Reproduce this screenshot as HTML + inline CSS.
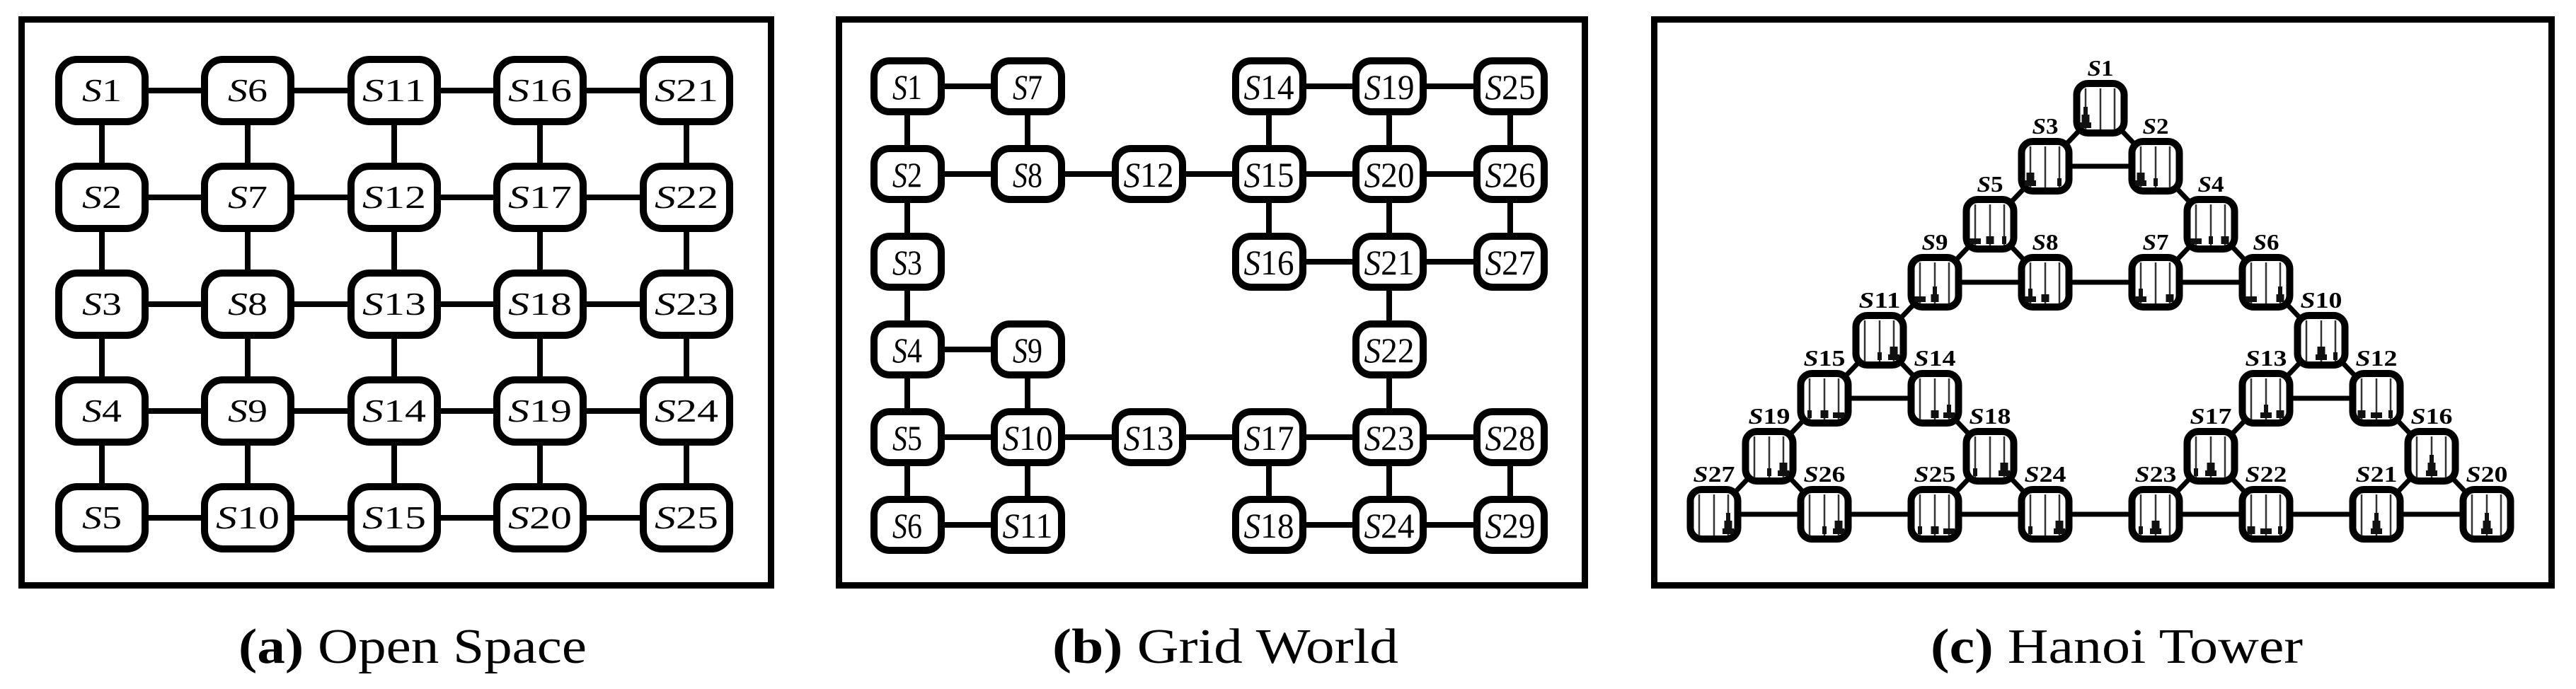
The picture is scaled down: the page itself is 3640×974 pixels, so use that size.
<!DOCTYPE html>
<html><head><meta charset="utf-8"><style>
html,body{margin:0;padding:0;background:#fff;}
svg{display:block;}
</style></head><body>
<svg xmlns="http://www.w3.org/2000/svg" xmlns:xlink="http://www.w3.org/1999/xlink" width="3640" height="974" viewBox="0 0 3640 974">
<defs>
<g id="hn">
<rect x="-33.5" y="-35" width="67" height="70" rx="16" fill="#fff" stroke="#000" stroke-width="10"/>
<line x1="-21" y1="-28" x2="-21" y2="30" stroke="#333" stroke-width="2.5"/>
<line x1="0" y1="-28" x2="0" y2="30" stroke="#333" stroke-width="2.5"/>
<line x1="20" y1="-28" x2="20" y2="30" stroke="#333" stroke-width="2.5"/>
</g>
<rect id="dL" x="-8" y="-8" width="16" height="8" fill="#111"/>
<rect id="dM" x="-5.5" y="-11" width="11" height="11" fill="#111"/>
<rect id="dS" x="-3" y="-11" width="6" height="11" fill="#111"/>
</defs>

<g fill="none" stroke="#000" stroke-width="9">
<rect x="30.5" y="27.5" width="1059" height="800"/>
<rect x="1185.5" y="27.5" width="1054" height="800"/>
<rect x="2337.5" y="27.5" width="1268" height="800"/>
</g>

<!-- Panel A -->
<g stroke="#000" stroke-width="8">
<line x1="144" y1="128" x2="970" y2="128"/><line x1="144" y1="279" x2="970" y2="279"/><line x1="144" y1="430" x2="970" y2="430"/><line x1="144" y1="581" x2="970" y2="581"/><line x1="144" y1="732" x2="970" y2="732"/>
<line x1="144" y1="128" x2="144" y2="732"/><line x1="350" y1="128" x2="350" y2="732"/><line x1="557" y1="128" x2="557" y2="732"/><line x1="763" y1="128" x2="763" y2="732"/><line x1="970" y1="128" x2="970" y2="732"/>
</g>
<g fill="#fff" stroke="#000" stroke-width="10">
<rect x="83" y="84" width="122" height="88" rx="26"/><rect x="83" y="235" width="122" height="88" rx="26"/><rect x="83" y="386" width="122" height="88" rx="26"/><rect x="83" y="537" width="122" height="88" rx="26"/><rect x="83" y="688" width="122" height="88" rx="26"/>
<rect x="289" y="84" width="122" height="88" rx="26"/><rect x="289" y="235" width="122" height="88" rx="26"/><rect x="289" y="386" width="122" height="88" rx="26"/><rect x="289" y="537" width="122" height="88" rx="26"/><rect x="289" y="688" width="122" height="88" rx="26"/>
<rect x="496" y="84" width="122" height="88" rx="26"/><rect x="496" y="235" width="122" height="88" rx="26"/><rect x="496" y="386" width="122" height="88" rx="26"/><rect x="496" y="537" width="122" height="88" rx="26"/><rect x="496" y="688" width="122" height="88" rx="26"/>
<rect x="702" y="84" width="122" height="88" rx="26"/><rect x="702" y="235" width="122" height="88" rx="26"/><rect x="702" y="386" width="122" height="88" rx="26"/><rect x="702" y="537" width="122" height="88" rx="26"/><rect x="702" y="688" width="122" height="88" rx="26"/>
<rect x="909" y="84" width="122" height="88" rx="26"/><rect x="909" y="235" width="122" height="88" rx="26"/><rect x="909" y="386" width="122" height="88" rx="26"/><rect x="909" y="537" width="122" height="88" rx="26"/><rect x="909" y="688" width="122" height="88" rx="26"/>
</g>
<g font-family="Liberation Serif, serif" font-size="46" text-anchor="middle" fill="#000">
<text x="144" y="143" textLength="56" lengthAdjust="spacingAndGlyphs"><tspan font-style="italic">S</tspan>1</text>
<text x="144" y="294" textLength="56" lengthAdjust="spacingAndGlyphs"><tspan font-style="italic">S</tspan>2</text>
<text x="144" y="445" textLength="56" lengthAdjust="spacingAndGlyphs"><tspan font-style="italic">S</tspan>3</text>
<text x="144" y="596" textLength="56" lengthAdjust="spacingAndGlyphs"><tspan font-style="italic">S</tspan>4</text>
<text x="144" y="747" textLength="56" lengthAdjust="spacingAndGlyphs"><tspan font-style="italic">S</tspan>5</text>
<text x="350" y="143" textLength="56" lengthAdjust="spacingAndGlyphs"><tspan font-style="italic">S</tspan>6</text>
<text x="350" y="294" textLength="56" lengthAdjust="spacingAndGlyphs"><tspan font-style="italic">S</tspan>7</text>
<text x="350" y="445" textLength="56" lengthAdjust="spacingAndGlyphs"><tspan font-style="italic">S</tspan>8</text>
<text x="350" y="596" textLength="56" lengthAdjust="spacingAndGlyphs"><tspan font-style="italic">S</tspan>9</text>
<text x="350" y="747" textLength="90" lengthAdjust="spacingAndGlyphs"><tspan font-style="italic">S</tspan>10</text>
<text x="557" y="143" textLength="90" lengthAdjust="spacingAndGlyphs"><tspan font-style="italic">S</tspan>11</text>
<text x="557" y="294" textLength="90" lengthAdjust="spacingAndGlyphs"><tspan font-style="italic">S</tspan>12</text>
<text x="557" y="445" textLength="90" lengthAdjust="spacingAndGlyphs"><tspan font-style="italic">S</tspan>13</text>
<text x="557" y="596" textLength="90" lengthAdjust="spacingAndGlyphs"><tspan font-style="italic">S</tspan>14</text>
<text x="557" y="747" textLength="90" lengthAdjust="spacingAndGlyphs"><tspan font-style="italic">S</tspan>15</text>
<text x="763" y="143" textLength="90" lengthAdjust="spacingAndGlyphs"><tspan font-style="italic">S</tspan>16</text>
<text x="763" y="294" textLength="90" lengthAdjust="spacingAndGlyphs"><tspan font-style="italic">S</tspan>17</text>
<text x="763" y="445" textLength="90" lengthAdjust="spacingAndGlyphs"><tspan font-style="italic">S</tspan>18</text>
<text x="763" y="596" textLength="90" lengthAdjust="spacingAndGlyphs"><tspan font-style="italic">S</tspan>19</text>
<text x="763" y="747" textLength="90" lengthAdjust="spacingAndGlyphs"><tspan font-style="italic">S</tspan>20</text>
<text x="970" y="143" textLength="90" lengthAdjust="spacingAndGlyphs"><tspan font-style="italic">S</tspan>21</text>
<text x="970" y="294" textLength="90" lengthAdjust="spacingAndGlyphs"><tspan font-style="italic">S</tspan>22</text>
<text x="970" y="445" textLength="90" lengthAdjust="spacingAndGlyphs"><tspan font-style="italic">S</tspan>23</text>
<text x="970" y="596" textLength="90" lengthAdjust="spacingAndGlyphs"><tspan font-style="italic">S</tspan>24</text>
<text x="970" y="747" textLength="90" lengthAdjust="spacingAndGlyphs"><tspan font-style="italic">S</tspan>25</text>
</g>

<!-- Panel B -->
<g stroke="#000" stroke-width="8">
<line x1="1282" y1="122" x2="1452" y2="122"/>
<line x1="1282" y1="246" x2="2134" y2="246"/>
<line x1="1793" y1="122" x2="2134" y2="122"/>
<line x1="1793" y1="370" x2="2134" y2="370"/>
<line x1="1282" y1="494" x2="1452" y2="494"/>
<line x1="1282" y1="618" x2="2134" y2="618"/>
<line x1="1282" y1="742" x2="1452" y2="742"/>
<line x1="1793" y1="742" x2="2134" y2="742"/>
<line x1="1282" y1="122" x2="1282" y2="742"/>
<line x1="1452" y1="122" x2="1452" y2="246"/><line x1="1452" y1="494" x2="1452" y2="742"/>
<line x1="1793" y1="122" x2="1793" y2="370"/><line x1="1793" y1="618" x2="1793" y2="742"/>
<line x1="1963" y1="122" x2="1963" y2="742"/>
<line x1="2134" y1="122" x2="2134" y2="370"/><line x1="2134" y1="618" x2="2134" y2="742"/>
</g>
<g fill="#fff" stroke="#000" stroke-width="10">
<rect x="1235" y="86" width="95" height="72" rx="22"/><rect x="1235" y="210" width="95" height="72" rx="22"/><rect x="1235" y="334" width="95" height="72" rx="22"/><rect x="1235" y="458" width="95" height="72" rx="22"/><rect x="1235" y="582" width="95" height="72" rx="22"/><rect x="1235" y="706" width="95" height="72" rx="22"/>
<rect x="1405" y="86" width="95" height="72" rx="22"/><rect x="1405" y="210" width="95" height="72" rx="22"/><rect x="1405" y="458" width="95" height="72" rx="22"/><rect x="1405" y="582" width="95" height="72" rx="22"/><rect x="1405" y="706" width="95" height="72" rx="22"/>
<rect x="1576" y="210" width="95" height="72" rx="22"/><rect x="1576" y="582" width="95" height="72" rx="22"/>
<rect x="1746" y="86" width="95" height="72" rx="22"/><rect x="1746" y="210" width="95" height="72" rx="22"/><rect x="1746" y="334" width="95" height="72" rx="22"/><rect x="1746" y="582" width="95" height="72" rx="22"/><rect x="1746" y="706" width="95" height="72" rx="22"/>
<rect x="1916" y="86" width="95" height="72" rx="22"/><rect x="1916" y="210" width="95" height="72" rx="22"/><rect x="1916" y="334" width="95" height="72" rx="22"/><rect x="1916" y="458" width="95" height="72" rx="22"/><rect x="1916" y="582" width="95" height="72" rx="22"/><rect x="1916" y="706" width="95" height="72" rx="22"/>
<rect x="2087" y="86" width="95" height="72" rx="22"/><rect x="2087" y="210" width="95" height="72" rx="22"/><rect x="2087" y="334" width="95" height="72" rx="22"/><rect x="2087" y="582" width="95" height="72" rx="22"/><rect x="2087" y="706" width="95" height="72" rx="22"/>
</g>
<g font-family="Liberation Serif, serif" font-size="50" text-anchor="middle" fill="#000">
<text x="1282" y="140" textLength="42" lengthAdjust="spacingAndGlyphs"><tspan font-style="italic">S</tspan>1</text>
<text x="1282" y="264" textLength="42" lengthAdjust="spacingAndGlyphs"><tspan font-style="italic">S</tspan>2</text>
<text x="1282" y="388" textLength="42" lengthAdjust="spacingAndGlyphs"><tspan font-style="italic">S</tspan>3</text>
<text x="1282" y="512" textLength="42" lengthAdjust="spacingAndGlyphs"><tspan font-style="italic">S</tspan>4</text>
<text x="1282" y="636" textLength="42" lengthAdjust="spacingAndGlyphs"><tspan font-style="italic">S</tspan>5</text>
<text x="1282" y="760" textLength="42" lengthAdjust="spacingAndGlyphs"><tspan font-style="italic">S</tspan>6</text>
<text x="1452" y="140" textLength="42" lengthAdjust="spacingAndGlyphs"><tspan font-style="italic">S</tspan>7</text>
<text x="1452" y="264" textLength="42" lengthAdjust="spacingAndGlyphs"><tspan font-style="italic">S</tspan>8</text>
<text x="1452" y="512" textLength="42" lengthAdjust="spacingAndGlyphs"><tspan font-style="italic">S</tspan>9</text>
<text x="1452" y="636" textLength="71" lengthAdjust="spacingAndGlyphs"><tspan font-style="italic">S</tspan>10</text>
<text x="1452" y="760" textLength="71" lengthAdjust="spacingAndGlyphs"><tspan font-style="italic">S</tspan>11</text>
<text x="1623" y="264" textLength="71" lengthAdjust="spacingAndGlyphs"><tspan font-style="italic">S</tspan>12</text>
<text x="1623" y="636" textLength="71" lengthAdjust="spacingAndGlyphs"><tspan font-style="italic">S</tspan>13</text>
<text x="1793" y="140" textLength="71" lengthAdjust="spacingAndGlyphs"><tspan font-style="italic">S</tspan>14</text>
<text x="1793" y="264" textLength="71" lengthAdjust="spacingAndGlyphs"><tspan font-style="italic">S</tspan>15</text>
<text x="1793" y="388" textLength="71" lengthAdjust="spacingAndGlyphs"><tspan font-style="italic">S</tspan>16</text>
<text x="1793" y="636" textLength="71" lengthAdjust="spacingAndGlyphs"><tspan font-style="italic">S</tspan>17</text>
<text x="1793" y="760" textLength="71" lengthAdjust="spacingAndGlyphs"><tspan font-style="italic">S</tspan>18</text>
<text x="1963" y="140" textLength="71" lengthAdjust="spacingAndGlyphs"><tspan font-style="italic">S</tspan>19</text>
<text x="1963" y="264" textLength="71" lengthAdjust="spacingAndGlyphs"><tspan font-style="italic">S</tspan>20</text>
<text x="1963" y="388" textLength="71" lengthAdjust="spacingAndGlyphs"><tspan font-style="italic">S</tspan>21</text>
<text x="1963" y="512" textLength="71" lengthAdjust="spacingAndGlyphs"><tspan font-style="italic">S</tspan>22</text>
<text x="1963" y="636" textLength="71" lengthAdjust="spacingAndGlyphs"><tspan font-style="italic">S</tspan>23</text>
<text x="1963" y="760" textLength="71" lengthAdjust="spacingAndGlyphs"><tspan font-style="italic">S</tspan>24</text>
<text x="2134" y="140" textLength="71" lengthAdjust="spacingAndGlyphs"><tspan font-style="italic">S</tspan>25</text>
<text x="2134" y="264" textLength="71" lengthAdjust="spacingAndGlyphs"><tspan font-style="italic">S</tspan>26</text>
<text x="2134" y="388" textLength="71" lengthAdjust="spacingAndGlyphs"><tspan font-style="italic">S</tspan>27</text>
<text x="2134" y="636" textLength="71" lengthAdjust="spacingAndGlyphs"><tspan font-style="italic">S</tspan>28</text>
<text x="2134" y="760" textLength="71" lengthAdjust="spacingAndGlyphs"><tspan font-style="italic">S</tspan>29</text>
</g>

<!-- Panel C -->
<g stroke="#000" stroke-width="7">
<line x1="2968" y1="153" x2="2890" y2="235"/><line x1="2968" y1="153" x2="3046" y2="235"/><line x1="2890" y1="235" x2="3046" y2="235"/>
<line x1="2890" y1="235" x2="2812" y2="317"/><line x1="3046" y1="235" x2="3124" y2="317"/>
<line x1="2812" y1="317" x2="2734" y2="399"/><line x1="2812" y1="317" x2="2890" y2="399"/>
<line x1="3124" y1="317" x2="3046" y2="399"/><line x1="3124" y1="317" x2="3202" y2="399"/>
<line x1="2734" y1="399" x2="3202" y2="399"/>
<line x1="2734" y1="399" x2="2656" y2="481"/><line x1="3202" y1="399" x2="3280" y2="481"/>
<line x1="2656" y1="481" x2="2578" y2="563"/><line x1="2656" y1="481" x2="2734" y2="563"/><line x1="2578" y1="563" x2="2734" y2="563"/>
<line x1="3280" y1="481" x2="3202" y2="563"/><line x1="3280" y1="481" x2="3358" y2="563"/><line x1="3202" y1="563" x2="3358" y2="563"/>
<line x1="2578" y1="563" x2="2500" y2="645"/><line x1="2734" y1="563" x2="2812" y2="645"/>
<line x1="3202" y1="563" x2="3124" y2="645"/><line x1="3358" y1="563" x2="3436" y2="645"/>
<line x1="2500" y1="645" x2="2422" y2="727"/><line x1="2500" y1="645" x2="2578" y2="727"/>
<line x1="2812" y1="645" x2="2734" y2="727"/><line x1="2812" y1="645" x2="2890" y2="727"/>
<line x1="3124" y1="645" x2="3046" y2="727"/><line x1="3124" y1="645" x2="3202" y2="727"/>
<line x1="3436" y1="645" x2="3358" y2="727"/><line x1="3436" y1="645" x2="3514" y2="727"/>
<line x1="2422" y1="727" x2="3514" y2="727"/>
</g>

<g font-family="Liberation Serif, serif" font-size="32" font-weight="bold" text-anchor="middle" fill="#000">
<!-- S1 -->
<g transform="translate(2968,153)"><use href="#hn"/><use href="#dL" x="-21" y="28"/><use href="#dM" x="-21" y="20"/><use href="#dS" x="-21" y="9"/><text y="-46" textLength="37" lengthAdjust="spacingAndGlyphs"><tspan font-style="italic">S</tspan>1</text></g>
<!-- S3 -->
<g transform="translate(2890,235)"><use href="#hn"/><use href="#dL" x="-21" y="28"/><use href="#dM" x="-21" y="20"/><use href="#dS" x="20" y="28"/><text y="-46" textLength="37" lengthAdjust="spacingAndGlyphs"><tspan font-style="italic">S</tspan>3</text></g>
<!-- S2 -->
<g transform="translate(3046,235)"><use href="#hn"/><use href="#dL" x="-21" y="28"/><use href="#dM" x="-21" y="20"/><use href="#dS" x="0" y="28"/><text y="-46" textLength="37" lengthAdjust="spacingAndGlyphs"><tspan font-style="italic">S</tspan>2</text></g>
<!-- S5 -->
<g transform="translate(2812,317)"><use href="#hn"/><use href="#dL" x="-21" y="28"/><use href="#dM" x="0" y="28"/><use href="#dS" x="20" y="28"/><text y="-46" textLength="37" lengthAdjust="spacingAndGlyphs"><tspan font-style="italic">S</tspan>5</text></g>
<!-- S4 -->
<g transform="translate(3124,317)"><use href="#hn"/><use href="#dL" x="-21" y="28"/><use href="#dS" x="0" y="28"/><use href="#dM" x="20" y="28"/><text y="-46" textLength="37" lengthAdjust="spacingAndGlyphs"><tspan font-style="italic">S</tspan>4</text></g>
<!-- S9 -->
<g transform="translate(2734,399)"><use href="#hn"/><use href="#dL" x="-21" y="28"/><use href="#dM" x="0" y="28"/><use href="#dS" x="0" y="17"/><text y="-46" textLength="37" lengthAdjust="spacingAndGlyphs"><tspan font-style="italic">S</tspan>9</text></g>
<!-- S8 -->
<g transform="translate(2890,399)"><use href="#hn"/><use href="#dL" x="-21" y="28"/><use href="#dS" x="-21" y="20"/><use href="#dM" x="0" y="28"/><text y="-46" textLength="37" lengthAdjust="spacingAndGlyphs"><tspan font-style="italic">S</tspan>8</text></g>
<!-- S7 -->
<g transform="translate(3046,399)"><use href="#hn"/><use href="#dL" x="-21" y="28"/><use href="#dS" x="-21" y="20"/><use href="#dM" x="20" y="28"/><text y="-46" textLength="37" lengthAdjust="spacingAndGlyphs"><tspan font-style="italic">S</tspan>7</text></g>
<!-- S6 -->
<g transform="translate(3202,399)"><use href="#hn"/><use href="#dL" x="-21" y="28"/><use href="#dM" x="20" y="28"/><use href="#dS" x="20" y="17"/><text y="-46" textLength="37" lengthAdjust="spacingAndGlyphs"><tspan font-style="italic">S</tspan>6</text></g>
<!-- S11 -->
<g transform="translate(2656,481)"><use href="#hn"/><use href="#dS" x="0" y="28"/><use href="#dL" x="20" y="28"/><use href="#dM" x="20" y="20"/><text y="-46" textLength="59" lengthAdjust="spacingAndGlyphs"><tspan font-style="italic">S</tspan>11</text></g>
<!-- S10 -->
<g transform="translate(3280,481)"><use href="#hn"/><use href="#dL" x="0" y="28"/><use href="#dM" x="0" y="20"/><use href="#dS" x="20" y="28"/><text y="-46" textLength="59" lengthAdjust="spacingAndGlyphs"><tspan font-style="italic">S</tspan>10</text></g>
<!-- S15 -->
<g transform="translate(2578,563)"><use href="#hn"/><use href="#dS" x="-21" y="28"/><use href="#dM" x="0" y="28"/><use href="#dL" x="20" y="28"/><text y="-46" textLength="59" lengthAdjust="spacingAndGlyphs"><tspan font-style="italic">S</tspan>15</text></g>
<!-- S14 -->
<g transform="translate(2734,563)"><use href="#hn"/><use href="#dM" x="0" y="28"/><use href="#dL" x="20" y="28"/><use href="#dS" x="20" y="20"/><text y="-46" textLength="59" lengthAdjust="spacingAndGlyphs"><tspan font-style="italic">S</tspan>14</text></g>
<!-- S13 -->
<g transform="translate(3202,563)"><use href="#hn"/><use href="#dL" x="0" y="28"/><use href="#dS" x="0" y="20"/><use href="#dM" x="20" y="28"/><text y="-46" textLength="59" lengthAdjust="spacingAndGlyphs"><tspan font-style="italic">S</tspan>13</text></g>
<!-- S12 -->
<g transform="translate(3358,563)"><use href="#hn"/><use href="#dM" x="-21" y="28"/><use href="#dL" x="0" y="28"/><use href="#dS" x="20" y="28"/><text y="-46" textLength="59" lengthAdjust="spacingAndGlyphs"><tspan font-style="italic">S</tspan>12</text></g>
<!-- S19 -->
<g transform="translate(2500,645)"><use href="#hn"/><use href="#dS" x="0" y="28"/><use href="#dL" x="20" y="28"/><use href="#dM" x="20" y="20"/><text y="-46" textLength="59" lengthAdjust="spacingAndGlyphs"><tspan font-style="italic">S</tspan>19</text></g>
<!-- S18 -->
<g transform="translate(2812,645)"><use href="#hn"/><use href="#dS" x="-21" y="28"/><use href="#dL" x="20" y="28"/><use href="#dM" x="20" y="20"/><text y="-46" textLength="59" lengthAdjust="spacingAndGlyphs"><tspan font-style="italic">S</tspan>18</text></g>
<!-- S17 -->
<g transform="translate(3124,645)"><use href="#hn"/><use href="#dS" x="-21" y="28"/><use href="#dL" x="0" y="28"/><use href="#dM" x="0" y="20"/><text y="-46" textLength="59" lengthAdjust="spacingAndGlyphs"><tspan font-style="italic">S</tspan>17</text></g>
<!-- S16 -->
<g transform="translate(3436,645)"><use href="#hn"/><use href="#dL" x="0" y="28"/><use href="#dM" x="0" y="20"/><use href="#dS" x="0" y="9"/><text y="-46" textLength="59" lengthAdjust="spacingAndGlyphs"><tspan font-style="italic">S</tspan>16</text></g>
<!-- S27 -->
<g transform="translate(2422,727)"><use href="#hn"/><use href="#dL" x="20" y="28"/><use href="#dM" x="20" y="20"/><use href="#dS" x="20" y="9"/><text y="-46" textLength="59" lengthAdjust="spacingAndGlyphs"><tspan font-style="italic">S</tspan>27</text></g>
<!-- S26 -->
<g transform="translate(2578,727)"><use href="#hn"/><use href="#dS" x="0" y="28"/><use href="#dL" x="20" y="28"/><use href="#dM" x="20" y="20"/><text y="-46" textLength="59" lengthAdjust="spacingAndGlyphs"><tspan font-style="italic">S</tspan>26</text></g>
<!-- S25 -->
<g transform="translate(2734,727)"><use href="#hn"/><use href="#dS" x="-21" y="28"/><use href="#dM" x="0" y="28"/><use href="#dL" x="20" y="28"/><text y="-46" textLength="59" lengthAdjust="spacingAndGlyphs"><tspan font-style="italic">S</tspan>25</text></g>
<!-- S24 -->
<g transform="translate(2890,727)"><use href="#hn"/><use href="#dS" x="-21" y="28"/><use href="#dL" x="20" y="28"/><use href="#dM" x="20" y="20"/><text y="-46" textLength="59" lengthAdjust="spacingAndGlyphs"><tspan font-style="italic">S</tspan>24</text></g>
<!-- S23 -->
<g transform="translate(3046,727)"><use href="#hn"/><use href="#dS" x="-21" y="28"/><use href="#dL" x="0" y="28"/><use href="#dM" x="0" y="20"/><text y="-46" textLength="59" lengthAdjust="spacingAndGlyphs"><tspan font-style="italic">S</tspan>23</text></g>
<!-- S22 -->
<g transform="translate(3202,727)"><use href="#hn"/><use href="#dM" x="-21" y="28"/><use href="#dL" x="0" y="28"/><use href="#dS" x="20" y="28"/><text y="-46" textLength="59" lengthAdjust="spacingAndGlyphs"><tspan font-style="italic">S</tspan>22</text></g>
<!-- S21 -->
<g transform="translate(3358,727)"><use href="#hn"/><use href="#dL" x="0" y="28"/><use href="#dM" x="0" y="20"/><use href="#dS" x="0" y="9"/><text y="-46" textLength="59" lengthAdjust="spacingAndGlyphs"><tspan font-style="italic">S</tspan>21</text></g>
<!-- S20 -->
<g transform="translate(3514,727)"><use href="#hn"/><use href="#dL" x="0" y="28"/><use href="#dM" x="0" y="20"/><use href="#dS" x="0" y="9"/><text y="-46" textLength="59" lengthAdjust="spacingAndGlyphs"><tspan font-style="italic">S</tspan>20</text></g>
</g>

<!-- Captions -->
<g font-family="Liberation Serif, serif" font-size="70" fill="#000">
<text x="337" y="937" textLength="492" lengthAdjust="spacingAndGlyphs"><tspan font-weight="bold">(a)</tspan> Open Space</text>
<text x="1487" y="937" textLength="489" lengthAdjust="spacingAndGlyphs"><tspan font-weight="bold">(b)</tspan> Grid World</text>
<text x="2728" y="937" textLength="526" lengthAdjust="spacingAndGlyphs"><tspan font-weight="bold">(c)</tspan> Hanoi Tower</text>
</g>
</svg>
</body></html>
